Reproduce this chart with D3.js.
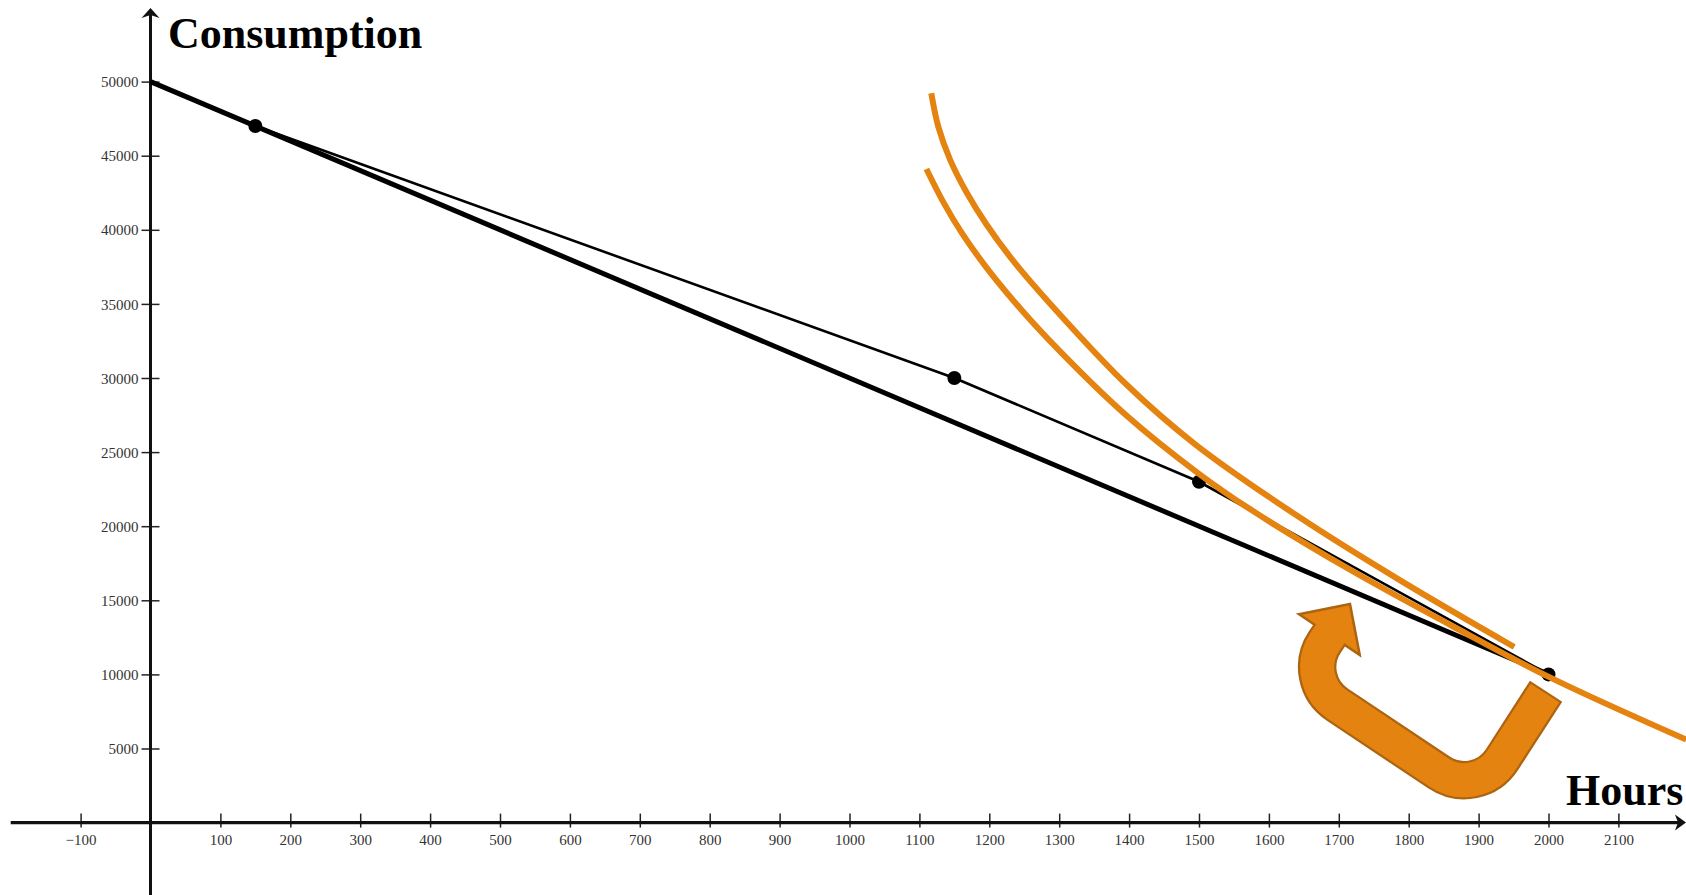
<!DOCTYPE html>
<html>
<head>
<meta charset="utf-8">
<script src="https://cdn.jsdelivr.net/npm/d3@7"></script>
<style>
  html, body { margin: 0; padding: 0; background: #fff; }
  svg { display: block; }
</style>
</head>
<body>
<svg id="chart" width="1686" height="895"></svg>
<script>
// ---------- data ----------
const xTickValues = [-100, 100, 200, 300, 400, 500, 600, 700, 800, 900, 1000, 1100, 1200, 1300, 1400, 1500, 1600, 1700, 1800, 1900, 2000, 2100];
const yTickValues = [5000, 10000, 15000, 20000, 25000, 30000, 35000, 40000, 45000, 50000];

// budget line (thick straight line)
const budgetHours = [0, 2000];
const budgetCons  = [50000, 10000];

// production possibility polyline (thin) and its marked points
const ppfHours = [0, 150, 1150, 1500, 2000];
const ppfCons  = [50000, 47000, 30000, 23000, 10000];
const dotHours = [150, 1150, 1500, 2000];
const dotCons  = [47000, 30000, 23000, 10000];

// indifference curves (orange)
const upperICHours = [1117, 1127, 1144, 1168, 1196, 1234, 1287, 1395, 1495, 1646, 1789, 1951];
const upperICCons  = [49210, 46960, 44720, 42480, 40360, 37920, 35010, 29610, 25510, 20530, 16310, 11850];
const lowerICHours = [1110, 1135, 1162, 1196, 1234, 1287, 1395, 1499, 1574, 1718, 1861, 2002, 2197];
const lowerICCons  = [44100, 41800, 39690, 37450, 35250, 32490, 27520, 23570, 21120, 17010, 13300, 9800, 5600];

// U-turn annotation arrow (in data units)
const arrowShaftHours = [1995, 1898, 1644, 1687];
const arrowShaftCons  = [8750, 1660, 9660, 12680];
const arrowHeadHours  = [1643, 1716, 1730];
const arrowHeadCons   = [14060, 14750, 11310];

const xLabel = "Hours";
const yLabel = "Consumption";

// ---------- setup ----------
const W = 1686, H = 895;
const svg = d3.select("#chart");
const x = d3.scaleLinear().domain([0, 2000]).range([150.5, 1548.5]);
const y = d3.scaleLinear().domain([0, 50000]).range([822.6, 81.6]);

const serif = "'Liberation Serif', 'Times New Roman', serif";
const orange = "#e4830f";
const orangeDark = "#ad6410";
const labelColor = "#333";

// ---------- axes ----------
const xAxisG = svg.append("g").attr("transform", `translate(0,${y(0)})`)
  .call(d3.axisBottom(x).tickValues(xTickValues).tickSize(6).tickFormat(d3.format("d")));
xAxisG.select(".domain").remove();
xAxisG.selectAll(".tick line").attr("y1", -9).attr("y2", 5).attr("stroke", "#222").attr("stroke-width", 1.5);
xAxisG.selectAll(".tick text").attr("y", 11.5).attr("dy", "0.71em")
  .attr("font-family", serif).attr("font-size", 15).attr("fill", labelColor);

const yAxisG = svg.append("g").attr("transform", `translate(${x(0)},0)`)
  .call(d3.axisLeft(y).tickValues(yTickValues).tickSize(9).tickFormat(d3.format("d")));
yAxisG.select(".domain").remove();
yAxisG.selectAll(".tick line").attr("x1", -9).attr("x2", 9).attr("stroke", "#222").attr("stroke-width", 1.5);
yAxisG.selectAll(".tick text").attr("x", -12).attr("dy", "0.34em")
  .attr("font-family", serif).attr("font-size", 15).attr("fill", labelColor);

// axis lines
svg.append("line").attr("x1", x(-200)).attr("x2", W - 6).attr("y1", y(0)).attr("y2", y(0))
  .attr("stroke", "#111").attr("stroke-width", 3.2);
svg.append("line").attr("x1", x(0)).attr("x2", x(0)).attr("y1", 14).attr("y2", H)
  .attr("stroke", "#111").attr("stroke-width", 3);
// arrow heads
const ax0 = x(0), ay0 = y(0);
svg.append("path").attr("d", `M${ax0},8 L${ax0 + 9},18 L${ax0},15 L${ax0 - 9},18 Z`).attr("fill", "#111");
svg.append("path").attr("d", `M${W},${ay0} L${W - 11},${ay0 - 8} L${W - 8},${ay0} L${W - 11},${ay0 + 8} Z`).attr("fill", "#111");

// axis titles
svg.append("text").attr("x", 168).attr("y", 48).text(yLabel)
  .attr("font-family", serif).attr("font-weight", "bold").attr("font-size", 44).attr("fill", "#000");
svg.append("text").attr("x", 1566).attr("y", 805).text(xLabel)
  .attr("font-family", serif).attr("font-weight", "bold").attr("font-size", 44).attr("fill", "#000");

// ---------- lines ----------
const line = d3.line().x(d => x(d[0])).y(d => y(d[1]));
const budget = budgetHours.map((h, i) => [h, budgetCons[i]]);
const ppf = ppfHours.map((h, i) => [h, ppfCons[i]]);

svg.append("path").attr("d", line(budget)).attr("fill", "none")
  .attr("stroke", "#000").attr("stroke-width", 5);
svg.append("path").attr("d", line(ppf)).attr("fill", "none")
  .attr("stroke", "#000").attr("stroke-width", 2.6).attr("stroke-linejoin", "round");
svg.selectAll("circle.dot").data(dotHours.map((h, i) => [h, dotCons[i]])).enter()
  .append("circle").attr("class", "dot")
  .attr("cx", d => x(d[0])).attr("cy", d => y(d[1])).attr("r", 7).attr("fill", "#000");

// ---------- indifference curves ----------
const curve = d3.line().x(d => x(d[0])).y(d => y(d[1])).curve(d3.curveCatmullRom.alpha(0.5));
[[upperICHours, upperICCons], [lowerICHours, lowerICCons]].forEach(([hs, cs]) => {
  svg.append("path").attr("d", curve(hs.map((h, i) => [h, cs[i]])))
    .attr("fill", "none").attr("stroke", orange).attr("stroke-width", 6).attr("stroke-linecap", "butt");
});

// ---------- U-turn arrow ----------
const sp = arrowShaftHours.map((h, i) => [x(h), y(arrowShaftCons[i])]);
const hp = arrowHeadHours.map((h, i) => [x(h), y(arrowHeadCons[i])]);
const R = 45;
function shaftPath(extendStart) {
  const [A, B, C, D] = sp;
  const dx = A[0] - B[0], dy = A[1] - B[1], L = Math.hypot(dx, dy);
  const A2 = [A[0] + dx / L * extendStart, A[1] + dy / L * extendStart];
  const p = d3.path();
  p.moveTo(A2[0], A2[1]);
  p.arcTo(B[0], B[1], C[0], C[1], R);
  p.arcTo(C[0], C[1], D[0], D[1], R);
  p.lineTo(D[0], D[1]);
  return p.toString();
}
svg.append("path").attr("d", shaftPath(2)).attr("fill", "none")
  .attr("stroke", orangeDark).attr("stroke-width", 38.5).attr("stroke-linecap", "butt");
svg.append("path").attr("d", shaftPath(0)).attr("fill", "none")
  .attr("stroke", orange).attr("stroke-width", 34).attr("stroke-linecap", "butt");
svg.append("path").attr("d", "M" + hp.map(p => p.join(",")).join("L") + "Z")
  .attr("fill", orange).attr("stroke", orangeDark).attr("stroke-width", 2.5).attr("stroke-linejoin", "miter");
// cover the head's base line inside the shaft
{
  const D = sp[3], T = hp[1];
  const mid = [(hp[0][0] + hp[2][0]) / 2, (hp[0][1] + hp[2][1]) / 2];
  const ux = T[0] - mid[0], uy = T[1] - mid[1], L = Math.hypot(ux, uy);
  svg.append("line")
    .attr("x1", D[0] - ux / L * 3).attr("y1", D[1] - uy / L * 3)
    .attr("x2", D[0] + ux / L * 4).attr("y2", D[1] + uy / L * 4)
    .attr("stroke", orange).attr("stroke-width", 34);
}
</script>
</body>
</html>
